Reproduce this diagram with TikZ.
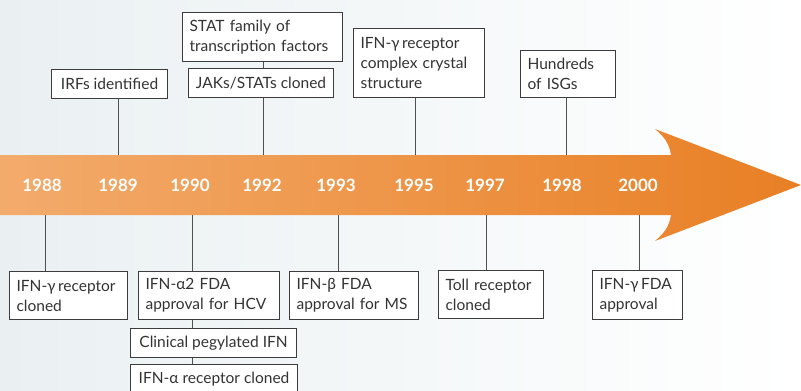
\documentclass[tikz,border=0pt]{standalone}
\usepackage{fontspec}
\setmainfont{Lato}
\newfontfamily\yearfont{Lato}
\usetikzlibrary{positioning}
\definecolor{bgleft}{HTML}{EAF0F2}
\definecolor{arrL}{HTML}{F3AB6C}
\definecolor{arrR}{HTML}{E87F24}
\definecolor{boxline}{HTML}{3C3C3C}
\definecolor{txt}{HTML}{333333}
\tikzset{
  evbox/.style={draw=boxline, line width=1.1pt, fill=white, anchor=north west,
    inner xsep=7pt, inner ysep=0pt, align=left, text=txt,
    font=\fontsize{15.5}{20}\selectfont},
  conn/.style={draw=boxline!90, line width=0.9pt},
  yr/.style={text=white, font=\yearfont\bfseries\fontsize{17}{17}\selectfont}
}
\begin{document}
\begin{tikzpicture}[x=1pt,y=-1pt]
\useasboundingbox (0,0) rectangle (801,391);
\clip (0,0) rectangle (801,391);
\shade[left color=bgleft, right color=white] (0,0) rectangle (801,391);
% arrow
\shade[left color=arrL, right color=arrR]
  (0,155) -- (671,155) .. controls (669,142) and (663,136) .. (655,129)
  -- (801,185) -- (655,241) .. controls (663,234) and (669,228) .. (671,215)
  -- (0,215) -- cycle;
% years
\foreach \x/\y in {42/1988,118/1989,190/1990,262/1992,336/1993,414/1995,485/1997,562/1998,638/2000}
  \node[yr] (y\y) at (\x,185) {\y};
% band anchor coordinates
\coordinate (t89) at (118.5,155);
\coordinate (t92) at (263,155);
\coordinate (t95) at (415,155);
\coordinate (t98) at (566,155);
\coordinate (b88) at (45,215);
\coordinate (b90) at (192,215);
\coordinate (b93) at (338,215);
\coordinate (b97) at (486,215);
\coordinate (b00) at (639.5,215);
% top boxes
\node[evbox, minimum width=116pt, minimum height=29pt] (irf) at (51,69) {IRFs identified};
\node[evbox, minimum width=160pt, minimum height=49pt, text width=146pt] (stat) at (182,12) {STAT family of\\transcription factors};
\node[evbox, minimum width=145pt, minimum height=29pt] (jak) at (188,68) {JAKs/STATs cloned};
\node[evbox, minimum width=131pt, minimum height=69pt, text width=117pt] (cry) at (353,28) {IFN-γ\,receptor\\complex crystal\\structure};
\node[evbox, minimum width=95pt, minimum height=47pt, text width=81pt] (isg) at (520,50) {Hundreds\\of ISGs};
% bottom boxes
\node[evbox, minimum width=118pt, minimum height=48pt, text width=104pt] (gr) at (9,271) {IFN-γ\,receptor\\cloned};
\node[evbox, minimum width=141pt, minimum height=48pt, text width=127pt] (a2) at (138,271) {IFN-α2 FDA\\approval for HCV};
\node[evbox, minimum width=129pt, minimum height=48pt, text width=115pt] (ms) at (289,271) {IFN-β FDA\\approval for MS};
\node[evbox, minimum width=166pt, minimum height=29pt] (peg) at (130,328) {Clinical pegylated IFN};
\node[evbox, minimum width=167pt, minimum height=29pt] (ar) at (130,364) {IFN-α receptor cloned};
\node[evbox, minimum width=105pt, minimum height=48pt, text width=91pt] (toll) at (438,270) {Toll receptor\\cloned};
\node[evbox, minimum width=90pt, minimum height=49pt, text width=76pt] (gf) at (592,270) {IFN-γ\,FDA\\approval};
% connectors
\draw[conn] (irf.south -| t89) -- (t89);
\draw[conn] (jak.south -| t92) -- (t92);
\draw[conn] (stat.south -| t92) -- (jak.north -| t92);
\draw[conn] (cry.south -| t95) -- (t95);
\draw[conn] (isg.south -| t98) -- (t98);
\draw[conn] (b88) -- (gr.north -| b88);
\draw[conn] (b90) -- (a2.north -| b90);
\draw[conn] (a2.south -| b90) -- (peg.north -| b90);
\draw[conn] (peg.south -| b90) -- (ar.north -| b90);
\draw[conn] (b93) -- (ms.north -| b93);
\draw[conn] (b97) -- (toll.north -| b97);
\draw[conn] (b00) -- (gf.north -| b00);
\end{tikzpicture}
\end{document}
